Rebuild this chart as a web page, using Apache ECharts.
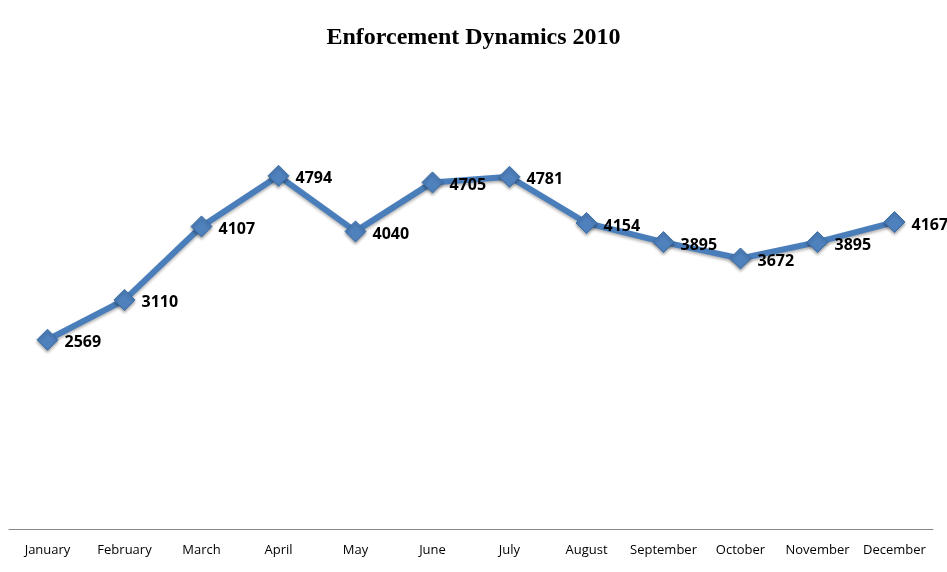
<!DOCTYPE html>
<html>
<head>
<meta charset="utf-8">
<script src="https://cdn.jsdelivr.net/npm/echarts@6/dist/echarts.min.js"></script>
<style>html,body{margin:0;padding:0;background:#fff;}#c{width:947px;height:572px;}</style>
</head>
<body>
<div id="c"></div>
<script>
const categories = ["January","February","March","April","May","June","July","August","September","October","November","December"];
const values = [2569,3110,4107,4794,4040,4705,4781,4154,3895,3672,3895,4167];
const chart = echarts.init(document.getElementById('c'));
chart.setOption({
  backgroundColor: '#fff',
  title: {
    text: 'Enforcement Dynamics 2010',
    left: 'center', top: 21,
    textStyle: {fontFamily: 'Liberation Serif', fontWeight: 'bold', fontSize: 24, color: '#000'}
  },
  grid: {left: 9, right: 14, top: 87, bottom: 43},
  xAxis: {
    type: 'category', data: categories, boundaryGap: true,
    axisLine: {lineStyle: {color: '#868686', width: 1}},
    axisTick: {show: false},
    axisLabel: {interval: 0, color: '#000', fontFamily: 'Open Sans', fontSize: 13, margin: 15}
  },
  yAxis: {type: 'value', min: 0, max: 6000, show: false, splitLine: {show: false}},
  series: [{
    type: 'line', data: values,
    lineStyle: {color: '#4a7ebb', width: 6, shadowColor: 'rgba(0,0,0,0.3)', shadowBlur: 3, shadowOffsetY: 2},
    symbol: 'diamond', symbolSize: 21,
    itemStyle: {color: '#4f81bd', borderColor: '#3a6ea8', borderWidth: 1, shadowColor: 'rgba(0,0,0,0.35)', shadowBlur: 3, shadowOffsetY: 2},
    label: {show: true, position: 'right', distance: 6, offset: [0, 3], color: '#000', fontWeight: 'bold', fontSize: 16, fontFamily: 'Open Sans'}
  }]
});
</script>
</body>
</html>
